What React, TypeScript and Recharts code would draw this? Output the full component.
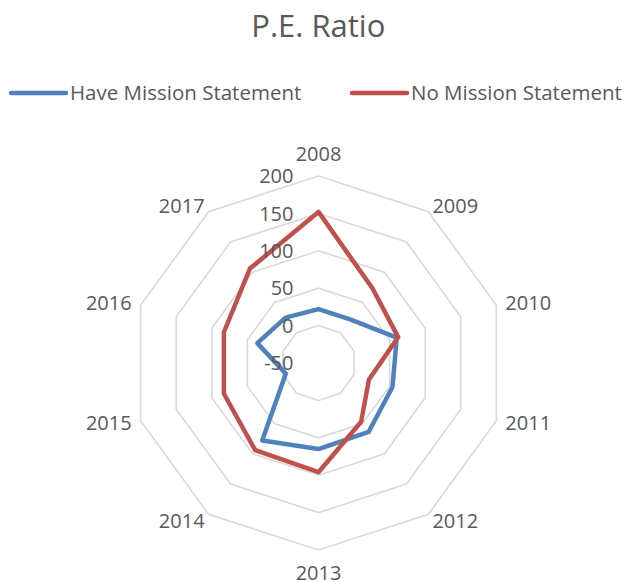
import React from 'react';
import { RadarChart, Radar, PolarGrid, PolarAngleAxis, PolarRadiusAxis, Legend } from 'recharts';

const categories = ['2008', '2009', '2010', '2011', '2012', '2013', '2014', '2015', '2016', '2017'];
const haveMission = [22, 22, 60, 54, 64, 65, 78, -4, 36, 25];
const noMission = [152, 73, 62, 21, 47, 96, 94, 83, 83, 106];
const radiusTicks = [-50, 0, 50, 100, 150, 200];
const seriesNames = ['Have Mission Statement', 'No Mission Statement'];
const seriesColors = ['#4f81bd', '#c0504d'];

const data = categories.map((c, i) => ({ year: c, have: haveMission[i], no: noMission[i] }));

const W = 614;
const H = 574;
const CX = 310.5;
const CY = 355;
const R = 187;
const FONT = '"Open Sans", sans-serif';
const FS = 20;
const LFS = 20.5;
const TEXT = '#595959';

const AngleTick = (props: any) => {
  const { x, y, payload } = props;
  const dx = x - CX;
  const dy = y - CY;
  const len = Math.hypot(dx, dy) || 1;
  const ux = dx / len;
  const uy = dy / len;
  const vx = CX + R * ux;
  const vy = CY + R * uy;
  let tx: number;
  let anchor: 'start' | 'middle' | 'end';
  let cyText: number;
  if (Math.abs(ux) < 0.1) {
    tx = vx;
    anchor = 'middle';
    cyText = vy + uy * 22.5;
  } else {
    const off = Math.abs(ux) > 0.9 ? 9 : 4;
    tx = vx + Math.sign(ux) * off;
    anchor = ux > 0 ? 'start' : 'end';
    cyText = vy + uy * 7.5;
  }
  return (
    <text x={tx} y={cyText + 0.36 * FS} textAnchor={anchor} fill={TEXT} fontSize={FS} fontFamily={FONT}>
      {payload.value}
    </text>
  );
};

const RadiusTick = (props: any) => {
  const { x, y, payload } = props;
  return (
    <text x={x - 25} y={y + 0.36 * FS} textAnchor="end" fill={TEXT} fontSize={FS} fontFamily={FONT}>
      {payload.value}
    </text>
  );
};

const LegendContent = (props: any) => {
  const payload = props.payload || [];
  const itemX = [3, 344];
  return (
    <svg width={W} height={120} style={{ overflow: 'visible', display: 'block' }}>
      <text x={310.3} y={28.7} textAnchor="middle" fill={TEXT} fontSize={31} fontFamily={FONT}>
        P.E. Ratio
      </text>
      {payload.map((p: any, i: number) => (
        <g key={i}>
          <line x1={itemX[i]} x2={itemX[i] + 55} y1={85} y2={85} stroke={p.color} strokeWidth={4.5} strokeLinecap="round" />
          <text x={itemX[i] + 59} y={85 + 0.36 * LFS} fill={TEXT} fontSize={LFS} fontFamily={FONT}>
            {p.value}
          </text>
        </g>
      ))}
    </svg>
  );
};

export default function App() {
  return (
    <RadarChart
      width={W}
      height={H}
      data={data}
      cx={CX}
      cy={CY}
      outerRadius={R}
      margin={{ top: 0, right: 0, bottom: 0, left: 0 }}
      style={{ overflow: 'visible' }}
    >
      <PolarGrid gridType="polygon" radialLines={false} stroke="#d9d9d9" strokeWidth={1.6} />
      <PolarAngleAxis dataKey="year" tick={<AngleTick />} tickLine={false} axisLine={false} />
      <PolarRadiusAxis
        angle={90}
        domain={[-50, 200]}
        ticks={radiusTicks as any}
        tickCount={6}
        type="number"
        axisLine={false}
        tickLine={false}
        tick={<RadiusTick />}
      />
      <Radar
        name={seriesNames[0]}
        dataKey="have"
        stroke={seriesColors[0]}
        strokeWidth={4.5}
        fill="none"
        fillOpacity={0}
        dot={false}
        isAnimationActive={false}
        strokeLinejoin="round"
      />
      <Radar
        name={seriesNames[1]}
        dataKey="no"
        stroke={seriesColors[1]}
        strokeWidth={4.5}
        fill="none"
        fillOpacity={0}
        dot={false}
        isAnimationActive={false}
        strokeLinejoin="round"
      />
      <Legend
        content={<LegendContent />}
        wrapperStyle={{ position: 'absolute', top: 0, left: 0, width: W, height: 0, overflow: 'visible' }}
      />
    </RadarChart>
  );
}
